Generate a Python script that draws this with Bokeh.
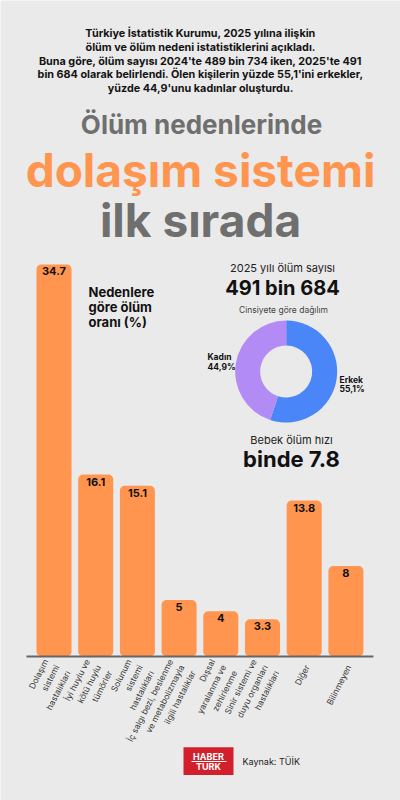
import math
from bokeh.plotting import figure
from bokeh.models import Range1d, Label, BoxAnnotation
from bokeh.embed import file_html
from bokeh.resources import INLINE
from bokeh.core.properties import value

# ---------------- data ----------------
intro_lines = [
    "Türkiye İstatistik Kurumu, 2025 yılına ilişkin",
    "ölüm ve ölüm nedeni istatistiklerini açıkladı.",
    "Buna göre, ölüm sayısı 2024'te 489 bin 734 iken, 2025'te 491",
    "bin 684 olarak belirlendi. Ölen kişilerin yüzde 55,1'ini erkekler,",
    "yüzde 44,9'unu kadınlar oluşturdu.",
]
title_lines = ["Ölüm nedenlerinde", "dolaşım sistemi", "ilk sırada"]

categories = [
    "Dolaşım\nsistemi\nhastalıkları",
    "İyi huylu ve\nkötü huylu\ntümörler",
    "Solunum\nsistemi\nhastalıkları",
    "İç salgı bezi, beslenme\nve metabolizmayla\nilgili hastalıklar",
    "Dışsal\nyaralanma ve\nzehirlenme",
    "Sinir sistemi ve\nduyu organları\nhastalıkları",
    "Diğer",
    "Bilinmeyen",
]
rates = [34.7, 16.1, 15.1, 5, 4, 3.3, 13.8, 8]
rate_labels = ["34.7", "16.1", "15.1", "5", "4", "3.3", "13.8", "8"]
chart_note = "Nedenlere\ngöre ölüm\noranı (%)"

genders = ["Erkek", "Kadın"]
gender_shares = [55.1, 44.9]
gender_share_labels = ["55,1%", "44,9%"]

deaths_caption = "2025 yılı ölüm sayısı"
deaths_value = "491 bin 684"
donut_caption = "Cinsiyete göre dağılım"
infant_caption = "Bebek ölüm hızı"
infant_value = "binde 7.8"
logo_lines = ["HABER", "TURK"]
source_text = "Kaynak: TÜİK"

# ---------------- style ----------------
BG = "#eaeaea"
ORANGE = "#ff954f"
GREY_TITLE = "#6f6f6f"
BLUE = "#4a86f7"
PURPLE = "#b28cf4"
RED = "#d21f2b"
FONT = "Inter"

W, H = 400, 800
BASE = 656          # page y of the bar baseline
PX_PER_UNIT = 11.3  # vertical scale of the bars
SLOT = 41.7         # px per category
FIRST = 53.5        # page x of first category centre

x0 = -FIRST / SLOT
p = figure(
    width=W, height=H,
    x_range=Range1d(x0, x0 + W / SLOT),
    y_range=Range1d(-(H - BASE) / PX_PER_UNIT, BASE / PX_PER_UNIT),
    x_axis_location=None, y_axis_location=None, min_border=0,
    output_backend="svg", toolbar_location=None,
    background_fill_color=BG, border_fill_color=BG, outline_line_color=None,
)
p.grid.visible = False
p.extra_x_ranges = {"px": Range1d(0, W)}
p.extra_y_ranges = {"px": Range1d(H, 0)}

idx = list(range(len(categories)))

# bars
p.vbar(x=idx, top=rates, width=0.84, fill_color=ORANGE, line_color=None,
       border_radius=5)
p.text(x=idx, y=rates, text=rate_labels, text_align="center",
       text_baseline="middle", y_offset=7, text_font=value(FONT),
       text_font_style="bold", text_font_size="11px", text_color="#111111")

# category axis line and labels
pad = 0.66
p.segment(x0=[idx[0] - pad], y0=[0], x1=[idx[-1] + pad], y1=[0],
          line_color="#666666", line_width=2)
p.text(x=idx, y=[0] * len(idx), text=categories, angle=1.1,
       text_align="right", text_baseline="middle", x_offset=3, y_offset=9,
       text_font=value(FONT), text_font_size="8.5px", text_color="#3a3a3a",
       text_line_height=1.25)


def lab(x, y, t, size, color="#111111", bold=False, align="center"):
    p.add_layout(Label(x=x, y=y, x_range_name="px", y_range_name="px", text=t,
                       text_align=align, text_baseline="middle",
                       text_font=FONT, text_font_size=f"{size}px",
                       text_font_style="bold" if bold else "normal",
                       text_color=color))


# header
for i, t in enumerate(intro_lines):
    lab(200, 33 + i * 13.8, t, 10.8, "#141414", True)
lab(201, 124, title_lines[0], 26, GREY_TITLE, True)
lab(200, 169, title_lines[1], 46, ORANGE, True)
lab(200, 219, title_lines[2], 46, GREY_TITLE, True)

# note
for i, t in enumerate(chart_note.split("\n")):
    lab(88, 291.5 + i * 15, t, 13, "#111111", True, "left")

# right panel
lab(282, 267, deaths_caption, 11, "#222222")
lab(282, 287, deaths_value, 20, "#111111", True)
lab(283, 309.5, donut_caption, 8.5, "#444444")
lab(291, 439, infant_caption, 11, "#222222")
lab(291, 458, infant_value, 22, "#111111", True)

# donut
total = sum(gender_shares)
starts, ends, acc = [], [], 0.0
for s in gender_shares:
    starts.append(math.pi / 2 - 2 * math.pi * acc / total)
    acc += s
    ends.append(math.pi / 2 - 2 * math.pi * acc / total)
cx, cy = 285.7, 371
p.annular_wedge(x=[cx] * 2, y=[cy] * 2, inner_radius=26, outer_radius=51,
                inner_radius_units="screen", outer_radius_units="screen",
                start_angle=starts, end_angle=ends, direction="clock",
                fill_color=[BLUE, PURPLE], line_color=None,
                x_range_name="px", y_range_name="px")

lab(339, 379, genders[0], 8.5, "#111111", True, "left")
lab(339, 388, gender_share_labels[0], 8.5, "#111111", True, "left")
lab(207, 356, genders[1], 8.5, "#111111", True, "left")
lab(207, 366, gender_share_labels[1], 8.5, "#111111", True, "left")

# footer
p.add_layout(BoxAnnotation(left=183, right=233, top=746.8, bottom=774.5,
                           x_range_name="px", y_range_name="px",
                           fill_color=RED, fill_alpha=1, line_color=None))
p.add_layout(BoxAnnotation(left=191, right=226, top=760.4, bottom=761.4,
                           x_range_name="px", y_range_name="px",
                           fill_color="white", fill_alpha=1, line_color=None))
lab(208, 756.3, logo_lines[0], 9, "white", True)
lab(208, 766.3, logo_lines[1], 9, "white", True)
lab(242, 761, source_text, 9, "#222222", False, "left")

open("out.html", "w").write(file_html(p, INLINE))
